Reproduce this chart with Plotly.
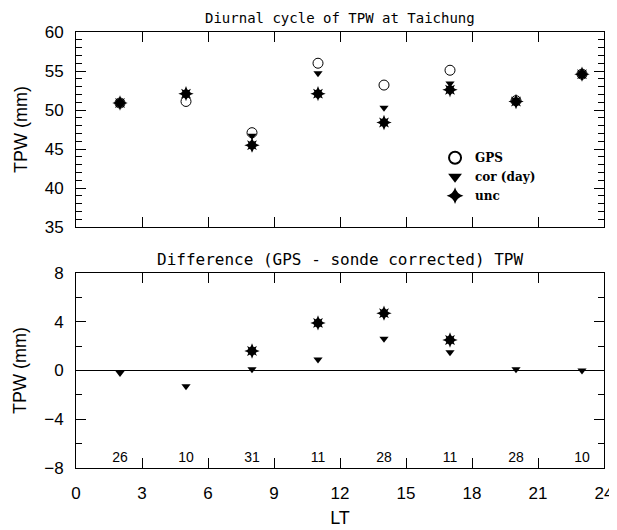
import plotly.graph_objects as go
from plotly.subplots import make_subplots

# local time of each sounding (hours)
lt = [2, 5, 8, 11, 14, 17, 20, 23]

# top panel: TPW (mm)
tpw_gps = [50.9, 51.1, 47.1, 56.0, 53.2, 55.1, 51.2, 54.6]
tpw_cor = [50.9, 51.9, 46.7, 54.7, 50.3, 53.4, 51.1, 54.6]
tpw_unc = [50.9, 52.1, 45.5, 52.1, 48.4, 52.6, 51.1, 54.6]

# bottom panel: GPS - sonde difference (mm)
diff_cor = [-0.2, -1.3, 0.1, 0.9, 2.6, 1.5, 0.1, 0.0]
diff_unc_lt = [8, 11, 14, 17]
diff_unc = [1.6, 3.9, 4.7, 2.5]

# number of samples per hour
counts = [26, 10, 31, 11, 28, 11, 28, 10]
count_y = [-7.2] * len(lt)

sans = "Liberation Sans"
mono = "DejaVu Sans Mono"
serif = "DejaVu Serif"

fig = make_subplots(rows=2, cols=1, vertical_spacing=0.105)

# top panel
fig.add_trace(go.Scatter(x=lt, y=tpw_gps, mode="markers", name="GPS",
                         marker=dict(symbol="circle-open", size=10,
                                     color="black", line=dict(width=1))),
              row=1, col=1)
fig.add_trace(go.Scatter(x=lt, y=tpw_cor, mode="markers", name="cor (day)",
                         marker=dict(symbol="triangle-down", size=8, color="black")),
              row=1, col=1)
fig.add_trace(go.Scatter(x=lt, y=tpw_unc, mode="markers", name="unc",
                         marker=dict(symbol="star-diamond", size=11, color="black")),
              row=1, col=1)
fig.add_trace(go.Scatter(x=lt, y=tpw_unc, mode="markers", showlegend=False,
                         marker=dict(symbol="star-square", size=9, color="black")),
              row=1, col=1)

# bottom panel
fig.add_trace(go.Scatter(x=lt, y=diff_cor, mode="markers", showlegend=False,
                         marker=dict(symbol="triangle-down", size=8, color="black")),
              row=2, col=1)
fig.add_trace(go.Scatter(x=diff_unc_lt, y=diff_unc, mode="markers", showlegend=False,
                         marker=dict(symbol="star-diamond", size=11, color="black")),
              row=2, col=1)
fig.add_trace(go.Scatter(x=diff_unc_lt, y=diff_unc, mode="markers", showlegend=False,
                         marker=dict(symbol="star-square", size=9, color="black")),
              row=2, col=1)
fig.add_trace(go.Scatter(x=lt, y=count_y, mode="text", showlegend=False,
                         text=[str(c) for c in counts],
                         textfont=dict(family=sans, size=14, color="black")),
              row=2, col=1)

axis_common = dict(showgrid=False, showline=True, linecolor="black", linewidth=1,
                   mirror="ticks", ticks="inside", tickcolor="black", automargin=False,
                   tickfont=dict(family=sans, size=17, color="black"))
title_font = dict(family=sans, size=18, color="black")

fig.update_xaxes(range=[0, 24], dtick=3, ticklen=10, zeroline=False,
                 ticklabelstandoff=10, **axis_common)
fig.update_xaxes(showticklabels=False, row=1, col=1)
fig.update_xaxes(title=dict(text="LT", font=title_font, standoff=8), row=2, col=1)

fig.update_yaxes(range=[35, 60], dtick=5, ticklen=10, zeroline=False,
                 ticklabelstandoff=8,
                 minor=dict(dtick=1, ticks="inside", ticklen=6, tickcolor="black"),
                 title=dict(text="TPW (mm)", font=title_font, standoff=12),
                 row=1, col=1, **axis_common)
fig.update_yaxes(range=[-8, 8], dtick=4, ticklen=10, ticklabelstandoff=8,
                 zeroline=True, zerolinecolor="black", zerolinewidth=1,
                 minor=dict(dtick=2, ticks="inside", ticklen=6, tickcolor="black"),
                 title=dict(text="TPW (mm)", font=title_font, standoff=12),
                 row=2, col=1, **axis_common)

# the page adds an 8 px body margin, so the figure is 8 px smaller each way
fig.update_layout(
    width=609, height=522,
    margin=dict(l=68, r=13, t=24, b=62),
    paper_bgcolor="white", plot_bgcolor="white",
    legend=dict(x=0.68, y=0.745, xanchor="left", yanchor="top",
                bgcolor="rgba(0,0,0,0)", tracegroupgap=0, itemsizing="constant",
                font=dict(family=serif, size=12, color="black", weight="bold")),
    annotations=[
        dict(text="Diurnal cycle of TPW at Taichung", x=0.5, y=1.0,
             xref="paper", yref="paper", xanchor="center", yanchor="bottom",
             yshift=4, showarrow=False,
             font=dict(family=mono, size=14, color="black")),
        dict(text="Difference (GPS - sonde corrected) TPW", x=0.5, y=0.445,
             xref="paper", yref="paper", xanchor="center", yanchor="bottom",
             yshift=3, showarrow=False,
             font=dict(family=mono, size=16, color="black")),
    ],
)

fig.write_html("out.html")
